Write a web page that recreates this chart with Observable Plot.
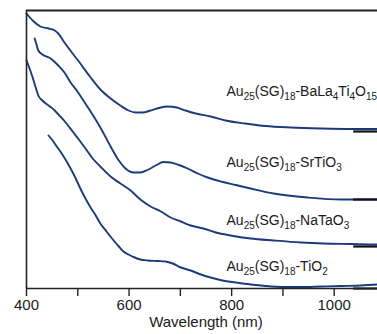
<!DOCTYPE html>
<html><head><meta charset="utf-8">
<script src="https://cdn.jsdelivr.net/npm/d3@7"></script>
<script src="https://cdn.jsdelivr.net/npm/@observablehq/plot@0.6"></script>
<style>html,body{margin:0;padding:0;background:#fff;overflow:hidden}</style>
</head><body><div id="chart"></div>
<script>
// Wavelength (nm) and offset absorbance (a.u.)
const wlBa  = [400,412,427,443,455,462,474,490,505,525,544,564,583,599,613,626,642,658,675,693,710,730,759,788,827,866,915,974,1032,1085,1100];
const absBa = [275,268,262,260,258,255,246,235,225,211,199,190,183,178,176,176,178,180.5,182,181,178,175,172,168,165,162.5,161,160,159.5,159.5,159.5];

const wlSr  = [416,420,423,431,447,462,474,486,498,511,525,544,564,580,593,609,622,636,652,667,681,697,714,734,753,779,808,837,882,948,1013,1085,1100];
const absSr = [250,243,238,234,230,223,216,206,198,188,177,161,142,128,120,116,116,118.5,123,126.5,126,123.5,120,115,111,107,103.5,100,95,91,89,89,89];

const wlNa  = [400,406,412,418,423,431,443,455,466,478,490,502,515,529,544,564,583,603,622,642,662,681,701,720,745,769,798,837,882,935,980,1032,1085,1100];
const absNa = [228,220,211,201,193,188,183,178,172,165,157,149,140,130,122,112,105,98,89,82,77,71,67,63,60,56,53,50,48,46,45,44.5,44,44];

const wlTi  = [443,451,459,466,476,486,496,505,515,525,535,544,556,570,580,589,599,611,622,636,656,671,685,701,720,740,759,782,808,837,866,902,935,974,1013,1052,1085,1100];
const absTi = [153,148,142,137,129,120,110,100,90,81,73,65,57,48,42,37,34,31,29,28,27.5,27,25,21,18,14,11,8,6,4,2.5,1.5,1.5,2,2.5,3,4,4];

const seriesNames = ["BaLa4Ti4O15", "SrTiO3", "NaTaO3", "TiO2"];
const labelTexts  = ["Au_25(SG)_18-BaLa_4Ti_4O_15", "Au_25(SG)_18-SrTiO_3", "Au_25(SG)_18-NaTaO_3", "Au_25(SG)_18-TiO_2"];
const labelWl     = [790, 790, 790, 790];
const labelAbs    = [196.5, 125.5, 67.5, 21.5];
const baselineAbs = [157, 89, 42, 0];
const baselineSpan = [1038, 1100];

const xDomain = [400, 1100];
const yDomain = [0, 278];
const xTicks = [400, 500, 600, 700, 800, 900, 1000];

const spectra = [];
[[wlBa, absBa], [wlSr, absSr], [wlNa, absNa], [wlTi, absTi]].forEach(([wl, ab], i) => {
  wl.forEach((w, j) => spectra.push({series: seriesNames[i], wl: w, abs: ab[j]}));
});
const labels = labelTexts.map((t, i) => ({t, wl: labelWl[i], abs: labelAbs[i]}));

const font = "'Liberation Sans', Arial, Helvetica, sans-serif";
const chart = Plot.plot({
  width: 377,
  height: 334,
  marginTop: 10,
  marginLeft: 26,
  marginRight: -8,
  marginBottom: 46,
  style: {fontFamily: font, fontSize: "15px", background: "#fff", color: "#1a1a1a"},
  x: {domain: xDomain},
  y: {domain: yDomain, axis: null},
  marks: [
    Plot.line(spectra, {x: "wl", y: "abs", z: "series", stroke: "#1d3a7c", strokeWidth: 1.9, curve: "monotone-x"}),
    Plot.ruleY(baselineAbs, {x1: baselineSpan[0], x2: baselineSpan[1], stroke: "#111", strokeWidth: 2.2}),
    Plot.ruleY([yDomain[1]], {stroke: "#222", strokeWidth: 2}),
    Plot.ruleY([yDomain[0]], {stroke: "#222", strokeWidth: 1.6}),
    Plot.ruleX([xDomain[0]], {stroke: "#222", strokeWidth: 1.6}),
    Plot.axisX({ticks: xTicks, tickFormat: d => d % 200 === 0 ? String(d) : "", tickSize: 8, tickPadding: 3, fontSize: 15, label: null, stroke: "#222", strokeWidth: 1.4}),
    Plot.text(["Wavelength (nm)"], {text: d => d, frameAnchor: "bottom", lineAnchor: "middle", dy: 34, fontSize: 15, fill: "#1a1a1a"}),
    Plot.text(labels, {x: "wl", y: "abs", text: "t", textAnchor: "start", lineAnchor: "middle", fontSize: 14, fill: "#1a1a1a"})
  ]
});
document.getElementById("chart").appendChild(chart);

// Render "_digits" as subscripts with tspans
chart.querySelectorAll("text").forEach(el => {
  const s = el.textContent;
  if (!s.includes("_")) return;
  el.textContent = "";
  const parts = s.split(/_(\d+)/);
  const ns = "http://www.w3.org/2000/svg";
  let shifted = false;
  parts.forEach((p, i) => {
    if (!p) return;
    const ts = document.createElementNS(ns, "tspan");
    ts.textContent = p;
    if (i % 2 === 1) {
      ts.setAttribute("font-size", "10");
      if (!shifted) { ts.setAttribute("dy", "3.3"); shifted = true; }
    } else if (shifted) {
      ts.setAttribute("dy", "-3.3");
      shifted = false;
    }
    el.appendChild(ts);
  });
});
</script>
</body></html>
